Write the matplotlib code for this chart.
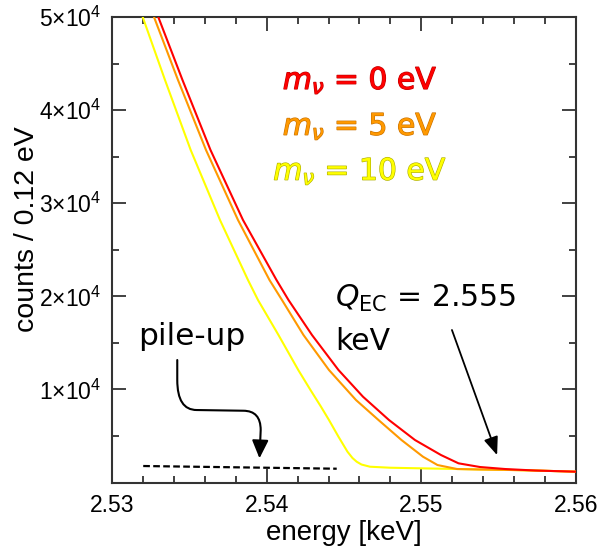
import matplotlib
matplotlib.use("Agg")
import matplotlib.pyplot as plt
import matplotlib.patheffects as pe
from matplotlib.path import Path
from matplotlib.patches import FancyArrowPatch
from matplotlib.ticker import MultipleLocator, FixedLocator, FuncFormatter

# Endpoint region of the EC spectrum: energy [keV] vs counts per 0.12 eV bin
energy_m0 = [2.532993, 2.534558, 2.536369, 2.538470, 2.540636, 2.541412,
             2.542931, 2.544644, 2.546228, 2.547909, 2.549590, 2.551271,
             2.552403, 2.553793, 2.555409, 2.557349, 2.560065]
counts_m0 = [50005, 43239, 35721, 28203, 21759, 19611,
             15852, 12093, 9226, 6723, 4575, 2964,
             2073, 1675, 1461, 1300, 1171]

energy_m5 = [2.532716, 2.534267, 2.536078, 2.538147, 2.540183, 2.540991,
             2.542381, 2.544030, 2.545776, 2.547231, 2.548718, 2.550108,
             2.551045, 2.552306, 2.553793, 2.555409, 2.557349, 2.560065]
counts_m5 = [50005, 43239, 35721, 28203, 21759, 19611,
             15852, 12093, 8871, 6723, 4575, 2782,
             1890, 1461, 1410, 1370, 1300, 1171]

energy_m10 = [2.531985, 2.533427, 2.535088, 2.536983, 2.538793, 2.539440,
              2.540765, 2.542045, 2.542834, 2.543513, 2.544030, 2.544644,
              2.545226, 2.545550, 2.545821, 2.546131, 2.546681, 2.547974,
              2.549914, 2.552306, 2.553793, 2.555409, 2.557349, 2.560065]
counts_m10 = [50005, 43239, 35721, 28203, 21759, 19611,
              15852, 12093, 9945, 8152, 6723, 4930,
              3319, 2642, 2245, 1944, 1708, 1600,
              1536, 1461, 1410, 1370, 1300, 1171]

# pile-up background level
pileup_energy = [2.53202, 2.54453]
pileup_counts = [1783, 1493]

mass_labels = [r"$m_\nu$ = 0 eV", r"$m_\nu$ = 5 eV", r"$m_\nu$ = 10 eV"]
q_value = 2.555

x_ticks = [2.53, 2.54, 2.55, 2.56]
y_ticks = [1e4, 2e4, 3e4, 4e4, 5e4]

RED, ORANGE, YELLOW = "#ff0000", "#ff9900", "#ffff00"

fig = plt.figure(figsize=(6.03, 5.47), dpi=100)
ax = fig.add_axes([0.1857, 0.1177, 0.9552 - 0.1857, 0.9689 - 0.1177])

ax.plot(energy_m10, counts_m10, color=YELLOW, lw=1.5, zorder=3)
ax.plot(energy_m5, counts_m5, color=ORANGE, lw=1.5, zorder=4)
ax.plot(energy_m0, counts_m0, color=RED, lw=1.5, zorder=5)
ax.plot(pileup_energy, pileup_counts, color="k", lw=1.6, ls=(0, (3, 1.5)), zorder=2)

ax.set_xlim(2.53, 2.56)
ax.set_ylim(0, 5e4)

# ticks on all four sides, pointing inwards
ax.xaxis.set_major_locator(FixedLocator(x_ticks))
ax.xaxis.set_minor_locator(MultipleLocator(0.002))
ax.yaxis.set_major_locator(FixedLocator(y_ticks))
ax.yaxis.set_minor_locator(MultipleLocator(5000))
ax.xaxis.set_major_formatter(FuncFormatter(lambda v, p: f"{v:.2f}"))
ax.yaxis.set_major_formatter(
    FuncFormatter(lambda v, p: r"$\mathregular{%d{\times}10^{4}}$" % round(v / 1e4)))
ax.tick_params(which="both", direction="in", top=True, right=True,
               color="#333333", width=1.3)
ax.tick_params(which="major", length=10, labelsize=16.5, pad=8)
ax.tick_params(which="minor", length=5)
for lab in ax.get_xticklabels() + ax.get_yticklabels():
    lab.set_family("Liberation Sans")
for sp in ax.spines.values():
    sp.set_color("#333333")
    sp.set_linewidth(1.5)

ax.set_xlabel("energy [keV]", family="Liberation Sans", fontsize=20, labelpad=2)
ax.set_ylabel("counts / 0.12 eV", family="Liberation Sans", fontsize=20.5)
ax.yaxis.set_label_coords(-0.155, 0.545)

# neutrino mass legend
label_colors = [RED, ORANGE, YELLOW]
label_edges = ["#c00000", "#c87000", "#b0b000"]
label_y = [0.845, 0.747, 0.650]
for txt, c, ec, y in zip(mass_labels, label_colors, label_edges, label_y):
    ax.text(0.535, y, txt, transform=ax.transAxes, ha="center", va="baseline",
            fontsize=21.5, color=c,
            path_effects=[pe.withStroke(linewidth=0.9, foreground=ec)])

# Q-value annotation
ax.text(2.54442, 18860, r"$Q_{\rm EC}$ = %.3f" % q_value, fontsize=21.5,
        ha="left", va="baseline")
ax.text(2.54442, 14230, "keV", fontsize=21.5, ha="left", va="baseline")
ax.annotate("", xy=(q_value - 0.0001, 2950), xytext=(2.55198, 16390),
            arrowprops=dict(arrowstyle="-|>,head_length=0.55,head_width=0.22",
                            mutation_scale=20, color="k", lw=1.3,
                            shrinkA=0, shrinkB=0))

# pile-up annotation with bent arrow
ax.text(0.172, 0.295, "pile-up", transform=ax.transAxes, fontsize=22.5,
        ha="center", va="baseline")
verts = [(0.1407, 0.2633), (0.1407, 0.2203), (0.1407, 0.1559), (0.1825, 0.1559),
         (0.2830, 0.1544), (0.3205, 0.1544), (0.3205, 0.1130), (0.3179, 0.0522)]
codes = [Path.MOVETO, Path.LINETO, Path.CURVE3, Path.CURVE3,
         Path.LINETO, Path.CURVE3, Path.CURVE3, Path.LINETO]
arrow = FancyArrowPatch(path=Path(verts, codes),
                        arrowstyle="-|>,head_length=0.55,head_width=0.25",
                        mutation_scale=20, color="k", lw=1.5,
                        transform=ax.transAxes)
ax.add_patch(arrow)

fig.savefig("out.png", dpi=100)
